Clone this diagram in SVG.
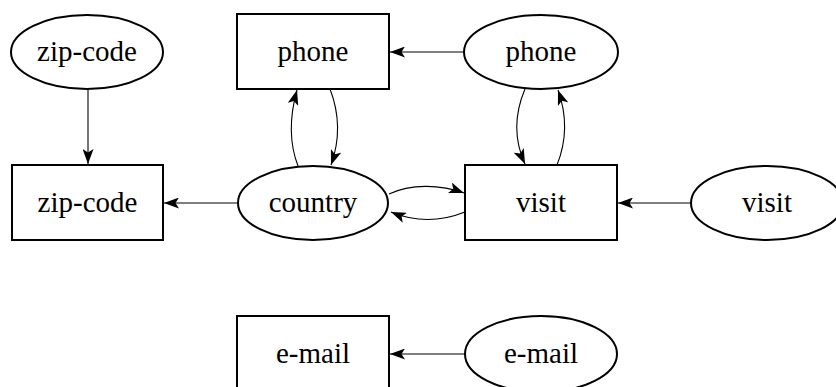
<svg xmlns="http://www.w3.org/2000/svg" width="836" height="387" viewBox="0 0 836 387">
<style>
.n{fill:#fff;stroke:#000;stroke-width:2}
.t{font-family:"Liberation Serif","Times New Roman",serif;font-size:29px;text-anchor:middle;fill:#000}
.e{fill:none;stroke:#000;stroke-width:1.1}
</style>
<defs>
<marker id="ah" viewBox="0 0 15 11" refX="15" refY="5.5" markerWidth="15" markerHeight="11" markerUnits="userSpaceOnUse" orient="auto">
<path d="M0,0 L15,5.5 L0,11 L3.5,5.5 Z" fill="#000"/>
</marker>
</defs>
<rect width="836" height="387" fill="#fff"/>
<g id="connectors">
<path class="e" d="M88,90 L88,164" marker-end="url(#ah)"/>
<path class="e" d="M464,52 L390,52" marker-end="url(#ah)"/>
<path class="e" d="M238,203 L164,203" marker-end="url(#ah)"/>
<path class="e" d="M691,203 L618,203" marker-end="url(#ah)"/>
<path class="e" d="M465,354 L390,354" marker-end="url(#ah)"/>
<path class="e" d="M298,166 C288,140 290,115 297,90" marker-end="url(#ah)"/>
<path class="e" d="M330,89 C340,115 340,140 331,165" marker-end="url(#ah)"/>
<path class="e" d="M389,194 C410,184 440,184 464,193" marker-end="url(#ah)"/>
<path class="e" d="M465,212 C440,222 415,222 391,212" marker-end="url(#ah)"/>
<path class="e" d="M525,89 C514,115 514,140 525,164" marker-end="url(#ah)"/>
<path class="e" d="M557,165 C567,140 567,115 558,90" marker-end="url(#ah)"/>
</g>
<g id="zipcode-attr"><ellipse class="n" cx="87" cy="52" rx="76" ry="37"/><text class="t" x="87" y="61">zip-code</text></g>
<g id="zipcode-entity"><rect class="n" x="12" y="165" width="151" height="75"/><text class="t" x="87.5" y="212">zip-code</text></g>
<g id="phone-entity"><rect class="n" x="237" y="14" width="152" height="75"/><text class="t" x="313" y="61">phone</text></g>
<g id="phone-attr"><ellipse class="n" cx="541" cy="52" rx="77" ry="37"/><text class="t" x="541" y="61">phone</text></g>
<g id="country"><ellipse class="n" cx="313" cy="203" rx="75" ry="37"/><text class="t" x="313" y="212">country</text></g>
<g id="visit-entity"><rect class="n" x="465" y="165" width="152" height="75"/><text class="t" x="541" y="212">visit</text></g>
<g id="visit-attr"><ellipse class="n" cx="767" cy="203" rx="76" ry="37"/><text class="t" x="767" y="212">visit</text></g>
<g id="email-entity"><rect class="n" x="237" y="316" width="152" height="75"/><text class="t" x="313" y="363">e-mail</text></g>
<g id="email-attr"><ellipse class="n" cx="541" cy="354" rx="76" ry="38"/><text class="t" x="541" y="363">e-mail</text></g>
</svg>
